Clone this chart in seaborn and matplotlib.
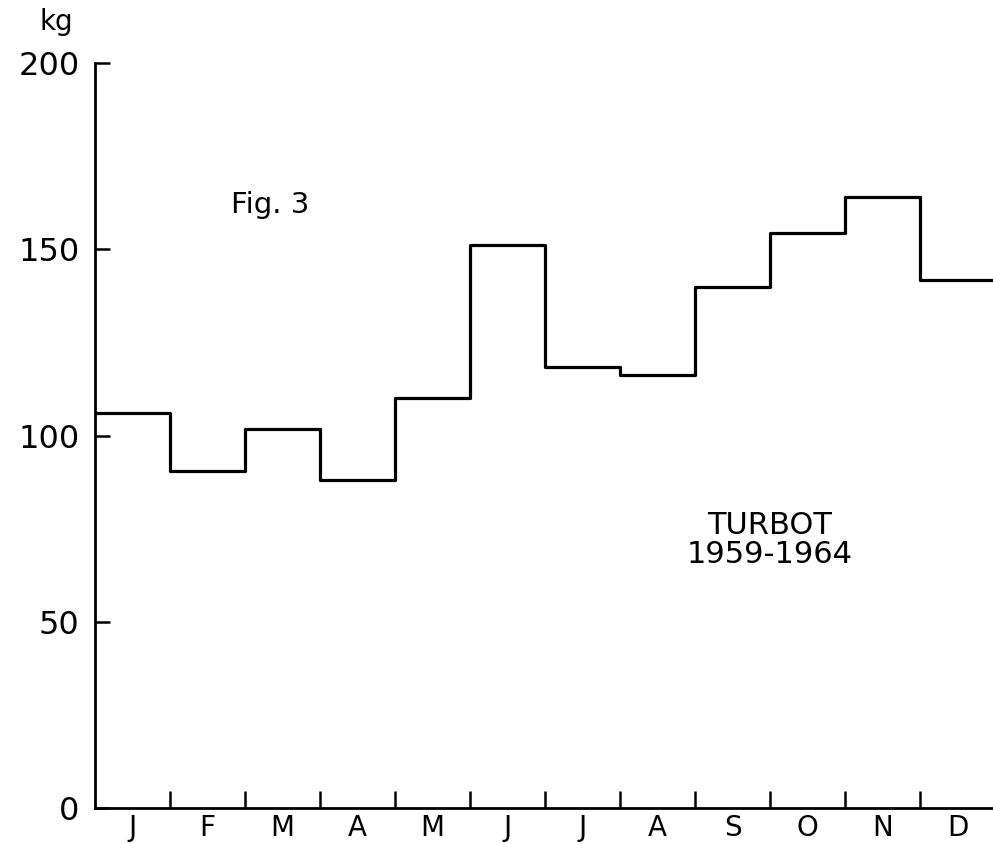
import numpy as np
import pandas as pd
import seaborn as sns
import matplotlib.pyplot as plt

months = ['J', 'F', 'M', 'A', 'M', 'J', 'J', 'A', 'S', 'O', 'N', 'D']
catch_kg = [106, 90.5, 101.7, 88, 110, 151.2, 118.5, 116.2, 140, 154.3, 164.1, 141.7]
y_ticks = [0, 50, 100, 150, 200]

sns.set_theme(style='white')
plt.rcParams['font.family'] = ['DejaVu Sans']
plt.rcParams['text.color'] = 'black'
plt.rcParams['xtick.color'] = 'black'
plt.rcParams['ytick.color'] = 'black'

# steps: each month's level held over its whole width, last level carried to the end
df = pd.DataFrame({'month': np.arange(len(months) + 1),
                   'kg': catch_kg + [catch_kg[-1]]})

fig = plt.figure(figsize=(9.93, 8.44), dpi=100)
ax = fig.add_axes([95 / 993, 36 / 844, 900 / 993, 745 / 844])

sns.lineplot(data=df, x='month', y='kg', ax=ax, color='black',
             linewidth=2.3, drawstyle='steps-post')

ax.set_xlim(0, 12)
ax.set_ylim(0, 200)
sns.despine(ax=ax)
for s in ['left', 'bottom']:
    ax.spines[s].set_color('black')
    ax.spines[s].set_linewidth(2.0)

ax.set_yticks(y_ticks)
ax.set_yticklabels([str(v) for v in y_ticks])
ax.tick_params(axis='y', direction='in', length=11, width=1.8,
               labelsize=23, pad=11, left=True)

ax.set_xticks(np.arange(1, 12))
ax.set_xticklabels([])
ax.set_xticks(np.arange(12) + 0.5, minor=True)
ax.set_xticklabels(months, minor=True)
ax.tick_params(axis='x', which='major', direction='in', length=12,
               width=1.8, bottom=True)
ax.tick_params(axis='x', which='minor', length=0, labelsize=20, pad=4)

ax.set_xlabel('')
ax.set_ylabel('')
ax.grid(False)

fig.text(40 / 993, 1 - 22 / 844, 'kg', fontsize=20, va='center', ha='left')
ax.text(2.33, 162, 'Fig. 3', fontsize=21, ha='center', va='center')
ax.text(9.0, 72, 'TURBOT\n1959-1964', fontsize=22, ha='center', va='center',
        multialignment='center', linespacing=1.0)

plt.savefig('out.png', dpi=100)
